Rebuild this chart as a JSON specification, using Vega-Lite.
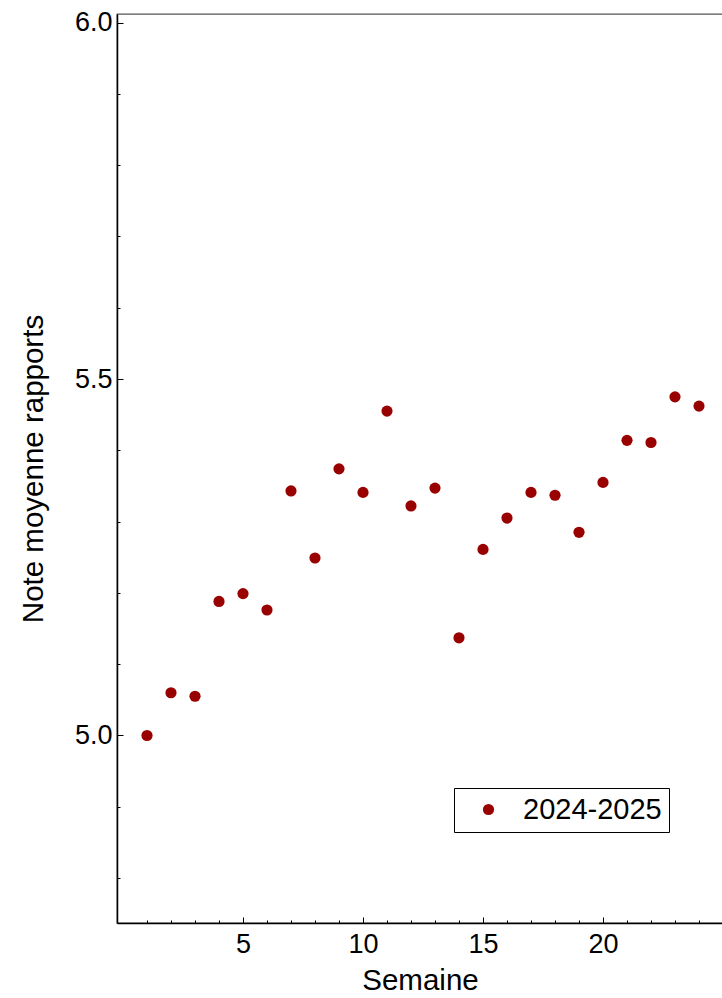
{
  "$schema": "https://vega.github.io/schema/vega-lite/v6.json",
  "width": 606,
  "height": 909,
  "autosize": {"type": "none"},
  "padding": {"left": 117, "top": 14, "right": 0, "bottom": 75},
  "background": "white",
  "config": {
    "font": "Liberation Sans",
    "view": {"stroke": "#555555", "strokeWidth": 1.3},
    "axis": {
      "domainColor": "#000000",
      "domainWidth": 1.5,
      "tickColor": "#000000",
      "tickWidth": 1,
      "labelFont": "Liberation Sans",
      "labelFontSize": 27,
      "labelColor": "#000000",
      "titleFont": "Liberation Sans",
      "titleFontSize": 29.5,
      "titleFontWeight": "normal",
      "titleColor": "#000000",
      "grid": false
    }
  },
  "data": {
    "values": [
      {"semaine": 1, "note": 5.000},
      {"semaine": 2, "note": 5.060},
      {"semaine": 3, "note": 5.055},
      {"semaine": 4, "note": 5.188},
      {"semaine": 5, "note": 5.199},
      {"semaine": 6, "note": 5.176},
      {"semaine": 7, "note": 5.343},
      {"semaine": 8, "note": 5.249},
      {"semaine": 9, "note": 5.374},
      {"semaine": 10, "note": 5.341},
      {"semaine": 11, "note": 5.455},
      {"semaine": 12, "note": 5.322},
      {"semaine": 13, "note": 5.347},
      {"semaine": 14, "note": 5.137},
      {"semaine": 15, "note": 5.261},
      {"semaine": 16, "note": 5.305},
      {"semaine": 17, "note": 5.341},
      {"semaine": 18, "note": 5.337},
      {"semaine": 19, "note": 5.285},
      {"semaine": 20, "note": 5.355},
      {"semaine": 21, "note": 5.414},
      {"semaine": 22, "note": 5.411},
      {"semaine": 23, "note": 5.475},
      {"semaine": 24, "note": 5.462}
    ]
  },
  "mark": {"type": "point", "filled": true, "size": 125, "opacity": 1},
  "encoding": {
    "x": {
      "field": "semaine",
      "type": "quantitative",
      "scale": {"domain": [-0.25, 25], "nice": false, "zero": false},
      "axis": {
        "title": "Semaine",
        "values": [1,2,3,4,5,6,7,8,9,10,11,12,13,14,15,16,17,18,19,20,21,22,23,24],
        "labelExpr": "datum.value % 5 === 0 ? datum.label : ''",
        "tickSize": {"condition": {"test": "datum.value % 5 === 0", "value": -6}, "value": -3},
        "labelPadding": 14,
        "titlePadding": 9
      }
    },
    "y": {
      "field": "note",
      "type": "quantitative",
      "scale": {"domain": [4.737, 6.012], "nice": false, "zero": false},
      "axis": {
        "title": "Note moyenne rapports",
        "values": [4.8,4.9,5.0,5.1,5.2,5.3,5.4,5.5,5.6,5.7,5.8,5.9,6.0],
        "labelExpr": "abs(datum.value*2 - round(datum.value*2)) < 0.001 ? format(datum.value, '.1f') : ''",
        "tickSize": {"condition": {"test": "abs(datum.value*2 - round(datum.value*2)) < 0.001", "value": -6}, "value": -3},
        "labelPadding": 11,
        "titlePadding": 26
      }
    },
    "color": {
      "datum": "2024-2025",
      "type": "nominal",
      "scale": {"range": ["#990000"]},
      "legend": {
        "title": null,
        "orient": "none",
        "legendX": 337,
        "legendY": 774,
        "strokeColor": "#000000",
        "padding": 7,
        "symbolType": "circle",
        "symbolSize": 125,
        "symbolOffset": 13,
        "symbolStrokeWidth": 0,
        "labelOffset": 20,
        "labelFontSize": 29,
        "labelFont": "Liberation Sans",
        "labelColor": "#000000",
        "fillColor": "white",
        "encode": {"legend": {"update": {"strokeWidth": {"value": 1.5}}}}
      }
    }
  }
}
